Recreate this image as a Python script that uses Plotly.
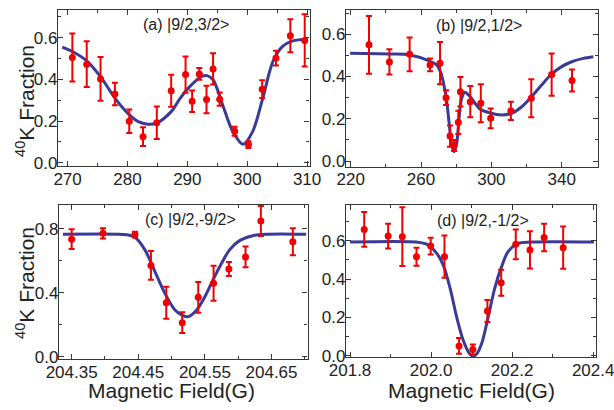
import plotly.graph_objects as go

W, H = 614, 410

# ---------------- data ----------------
a_x = [270.8, 273.2, 275.5, 277.9, 280.3, 282.6, 284.9, 287.3, 289.7, 290.8, 292.0, 293.2, 294.3, 295.4, 297.9, 300.2, 302.5, 304.8, 307.2, 309.6]
a_y = [0.505, 0.473, 0.402, 0.33, 0.199, 0.125, 0.192, 0.345, 0.423, 0.295, 0.426, 0.303, 0.45, 0.305, 0.151, 0.087, 0.353, 0.502, 0.609, 0.587]
a_err = [0.115, 0.11, 0.105, 0.054, 0.056, 0.045, 0.078, 0.077, 0.087, 0.052, 0.028, 0.066, 0.075, 0.032, 0.022, 0.016, 0.043, 0.035, 0.079, 0.125]
a_fit_x = [269.1, 270.8, 273.2, 275.5, 277.9, 280.2, 281.8, 283.4, 284.8, 287.3, 288.7, 290.4, 292.5, 293.3, 294.3, 295.9, 297.6, 299.3, 300.9, 302.6, 304.3, 305.9, 307.6, 310.1]
a_fit_y = [0.555, 0.534, 0.489, 0.413, 0.31, 0.233, 0.197, 0.185, 0.189, 0.245, 0.305, 0.365, 0.415, 0.418, 0.398, 0.277, 0.149, 0.088, 0.149, 0.31, 0.486, 0.558, 0.585, 0.593]

b_x = [230.4, 242.0, 253.5, 265.1, 270.8, 274.2, 276.5, 278.8, 281.2, 282.4, 288.0, 294.0, 299.6, 311.1, 322.7, 334.3, 345.9]
b_y = [0.55, 0.469, 0.505, 0.455, 0.463, 0.30, 0.118, 0.073, 0.183, 0.328, 0.281, 0.273, 0.202, 0.237, 0.297, 0.409, 0.381]
b_err = [0.137, 0.06, 0.08, 0.03, 0.1, 0.035, 0.05, 0.026, 0.055, 0.07, 0.074, 0.09, 0.047, 0.043, 0.09, 0.1, 0.052]
b_fit_x = [219.6, 242.3, 253.7, 264.7, 268.9, 271.3, 273.0, 274.6, 276.1, 277.4, 278.9, 280.3, 281.6, 283.1, 285.0, 287.9, 293.6, 299.8, 305.9, 311.6, 317.3, 322.9, 328.6, 334.3, 340.0, 345.7, 352.3, 358.0]
b_fit_y = [0.51, 0.507, 0.502, 0.474, 0.455, 0.416, 0.36, 0.281, 0.17, 0.076, 0.044, 0.084, 0.202, 0.297, 0.326, 0.305, 0.246, 0.226, 0.218, 0.226, 0.257, 0.305, 0.36, 0.412, 0.447, 0.47, 0.486, 0.494]

c_x = [204.35, 204.397, 204.445, 204.469, 204.492, 204.516, 204.54, 204.563, 204.586, 204.611, 204.634, 204.682]
c_y = [0.736, 0.773, 0.765, 0.572, 0.338, 0.213, 0.372, 0.46, 0.549, 0.625, 0.85, 0.72]
c_err = [0.062, 0.032, 0.018, 0.09, 0.1, 0.065, 0.096, 0.11, 0.044, 0.065, 0.094, 0.085]
c_fit_x = [204.337, 204.42, 204.435, 204.445, 204.46, 204.475, 204.49, 204.505, 204.517, 204.525, 204.537, 204.55, 204.562, 204.575, 204.587, 204.602, 204.622, 204.642, 204.702]
c_fit_y = [0.767, 0.767, 0.762, 0.748, 0.669, 0.533, 0.397, 0.293, 0.258, 0.251, 0.29, 0.376, 0.48, 0.585, 0.669, 0.727, 0.758, 0.767, 0.767]

d_x = [201.835, 201.894, 201.929, 201.964, 201.999, 202.033, 202.069, 202.103, 202.139, 202.173, 202.209, 202.244, 202.279, 202.326]
d_y = [0.659, 0.624, 0.621, 0.517, 0.572, 0.517, 0.052, 0.033, 0.234, 0.381, 0.581, 0.552, 0.617, 0.564]
d_err = [0.09, 0.065, 0.153, 0.047, 0.044, 0.11, 0.041, 0.027, 0.057, 0.068, 0.078, 0.097, 0.072, 0.11]
d_fit_x = [201.8, 201.964, 201.989, 202.014, 202.03, 202.047, 202.063, 202.079, 202.095, 202.104, 202.113, 202.125, 202.141, 202.157, 202.174, 202.19, 202.215, 202.248, 202.402]
d_fit_y = [0.593, 0.593, 0.582, 0.534, 0.473, 0.352, 0.204, 0.083, 0.012, 0.0, 0.012, 0.066, 0.204, 0.352, 0.465, 0.543, 0.586, 0.593, 0.593]

panel_labels = ["(a) |9/2,3/2>", "(b) |9/2,1/2>", "(c) |9/2,-9/2>", "(d) |9/2,-1/2>"]
x_title = "Magnetic Field(G)"
y_title = "<sup>40</sup>K Fraction"

a_xticks = [270, 280, 290, 300, 310]
b_xticks = [220, 260, 300, 340]
c_xticks = [204.35, 204.45, 204.55, 204.65]
d_xticks = [201.8, 202.0, 202.2, 202.4]
ab_yticks = [0.0, 0.2, 0.4, 0.6]
c_yticks = [0.0, 0.4, 0.8]
d_yticks = [0.0, 0.2, 0.4, 0.6]

# ---------------- styling ----------------
RED = "rgb(240,0,0)"
BLUE = "rgb(58,58,152)"
FRAME = "rgb(55,55,55)"
FONT = "Liberation Sans, Arial, sans-serif"

def px_x(p):
    return p / W

def px_y(p):
    return 1 - p / H

panels = [
    dict(x=a_x, y=a_y, e=a_err, fx=a_fit_x, fy=a_fit_y, xr=[268.4, 310.4], yr=[-0.016, 0.733],
         xt=a_xticks, xfmt="%d", xminor=5, yt=ab_yticks, yminor=0.1, yfmt="%.1f",
         dom_x=(58, 309.5), dom_y=(10, 166)),
    dict(x=b_x, y=b_y, e=b_err, fx=b_fit_x, fy=b_fit_y, xr=[217.3, 360.5], yr=[-0.027, 0.715],
         xt=b_xticks, xfmt="%d", xminor=20, yt=ab_yticks, yminor=0.1, yfmt="%.1f",
         dom_x=(346, 597.7), dom_y=(10, 166.7)),
    dict(x=c_x, y=c_y, e=c_err, fx=c_fit_x, fy=c_fit_y, xr=[204.331, 204.704], yr=[-0.016, 0.95],
         xt=c_xticks, xfmt="%.2f", xminor=0.05, yt=c_yticks, yminor=0.2, yfmt="%.1f",
         dom_x=(59, 307.5), dom_y=(205, 359.3)),
    dict(x=d_x, y=d_y, e=d_err, fx=d_fit_x, fy=d_fit_y, xr=[201.79, 202.407], yr=[-0.007, 0.786],
         xt=d_xticks, xfmt="%.1f", xminor=0.1, yt=d_yticks, yminor=0.1, yfmt="%.1f",
         dom_x=(346, 596), dom_y=(205, 357.3)),
]

fig = go.Figure()
layout = {}
for i, p in enumerate(panels):
    n = "" if i == 0 else str(i + 1)
    xa, ya = "x" + n, "y" + n
    fig.add_trace(go.Scatter(x=p["fx"], y=p["fy"], mode="lines",
                             line=dict(color=BLUE, width=3, shape="spline", smoothing=0.9),
                             xaxis=xa, yaxis=ya, showlegend=False, hoverinfo="skip"))
    fig.add_trace(go.Scatter(x=p["x"], y=p["y"], mode="markers",
                             marker=dict(color=RED, size=7),
                             error_y=dict(type="data", array=p["e"], color=RED, thickness=2, width=3),
                             xaxis=xa, yaxis=ya, showlegend=False))
    common = dict(showline=True, linecolor=FRAME, linewidth=1.2, mirror="allticks",
                  ticks="inside", ticklen=5, tickwidth=1, tickcolor=FRAME,
                  showgrid=False, zeroline=False, automargin=False,
                  ticklabeloverflow="allow",
                  tickfont=dict(family=FONT, size=17, color="#222"))
    layout["xaxis" + n] = dict(common, range=p["xr"], anchor=ya, ticklabelstandoff=-3,
                               domain=[px_x(p["dom_x"][0]), px_x(p["dom_x"][1])],
                               tickvals=p["xt"], ticktext=[p["xfmt"] % v for v in p["xt"]],
                               minor=dict(ticks="inside", ticklen=3, dtick=p["xminor"],
                                          tick0=p["xt"][0], tickcolor=FRAME, showgrid=False))
    layout["yaxis" + n] = dict(common, range=p["yr"], anchor=xa, ticklabelstandoff=-4,
                               domain=[px_y(p["dom_y"][1]), px_y(p["dom_y"][0])],
                               tickvals=p["yt"], ticktext=[p["yfmt"] % v for v in p["yt"]],
                               minor=dict(ticks="inside", ticklen=3, dtick=p["yminor"],
                                          tick0=0, tickcolor=FRAME, showgrid=False))

ann = []
label_pos = [(186, 24.5), (479, 25), (190, 219), (483, 220)]
for txt, (lx, ly) in zip(panel_labels, label_pos):
    ann.append(dict(text=txt, x=px_x(lx), y=px_y(ly), xref="paper", yref="paper",
                    showarrow=False, xanchor="center", yanchor="middle",
                    font=dict(family=FONT, size=16, color="#222")))
for (tx, ty) in [(171, 390), (471.5, 390)]:
    ann.append(dict(text=x_title, x=px_x(tx), y=px_y(ty), xref="paper", yref="paper",
                    showarrow=False, xanchor="center", yanchor="middle",
                    font=dict(family=FONT, size=21, color="#222")))
for (tx, ty) in [(25, 101), (25, 283)]:
    ann.append(dict(text=y_title, x=px_x(tx), y=px_y(ty), xref="paper", yref="paper",
                    showarrow=False, xanchor="center", yanchor="middle", textangle=-90,
                    font=dict(family=FONT, size=21, color="#222")))

fig.update_layout(width=W, height=H, margin=dict(l=0, r=0, t=0, b=0, autoexpand=False),
                  paper_bgcolor="white", plot_bgcolor="white",
                  annotations=ann, **layout)

fig.write_html("out.html", config={"displayModeBar": False},
               post_script="document.body.style.margin='0';document.body.style.padding='0';")
